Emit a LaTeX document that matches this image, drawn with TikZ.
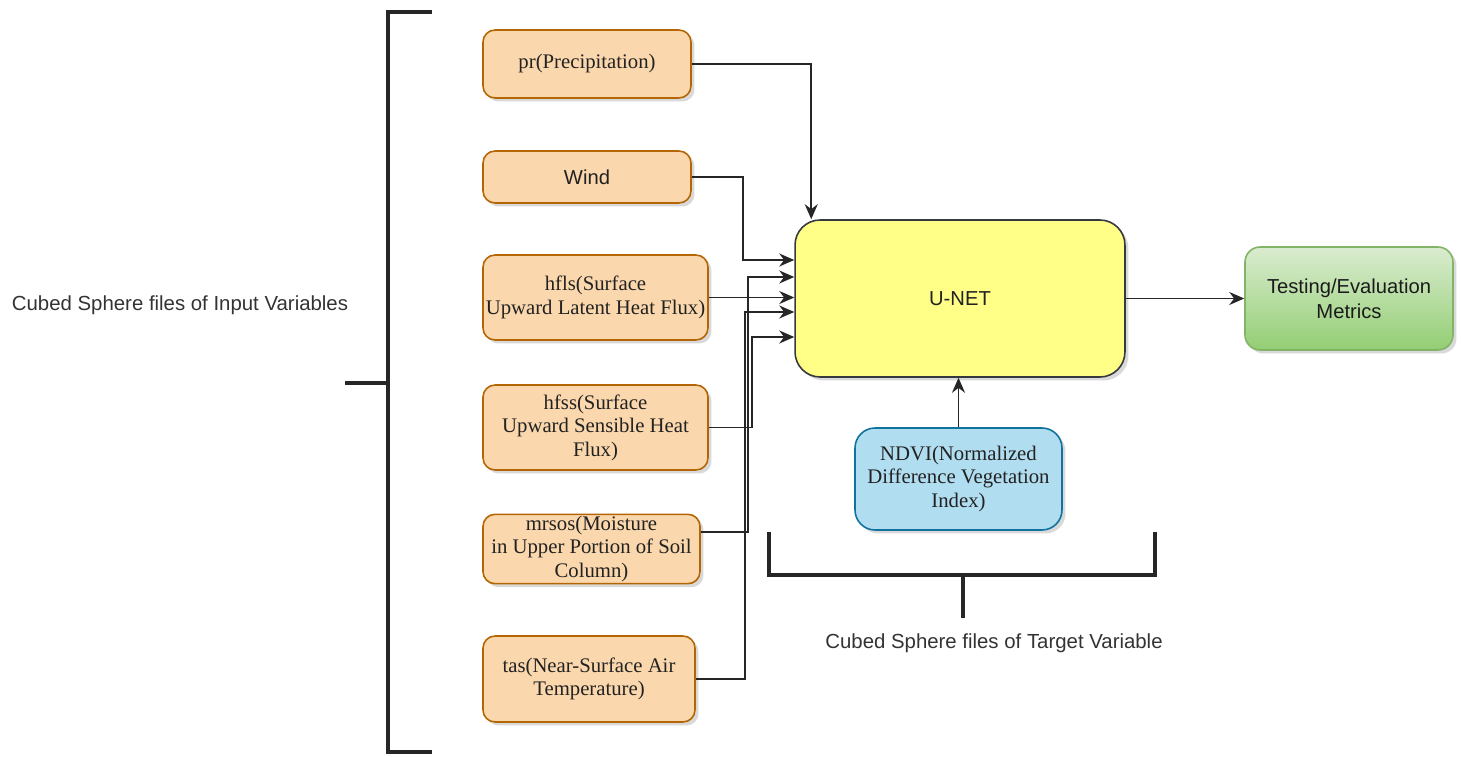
\documentclass[tikz,border=0pt]{standalone}
\usepackage{fontspec}
\setmainfont{Liberation Serif}
\setsansfont{Liberation Sans}
\usetikzlibrary{arrows.meta,shadows,calc}
\definecolor{orfill}{HTML}{FAD7AC}
\definecolor{ordraw}{HTML}{B46504}
\definecolor{yefill}{HTML}{FFFF88}
\definecolor{yedraw}{HTML}{36393D}
\definecolor{blfill}{HTML}{B1DDF0}
\definecolor{bldraw}{HTML}{10739E}
\definecolor{grtop}{HTML}{DAECD0}
\definecolor{grbot}{HTML}{93CE73}
\definecolor{grdraw}{HTML}{82B366}
\definecolor{txt}{HTML}{222222}
\definecolor{lbl}{HTML}{333333}
\tikzset{
  shad/.style={drop shadow={shadow xshift=0.07cm,shadow yshift=-0.07cm,opacity=0.25,fill=black!60}},
  obox/.style={draw=ordraw,fill=orfill,line width=0.9pt,rounded corners=0.24cm,shad,align=center,
    text=txt,font=\fontsize{11.8}{13.4}\selectfont,inner sep=1pt},
  osbox/.style={obox,font=\sffamily\fontsize{11.5}{13.4}\selectfont},
  ubox/.style={draw=yedraw,fill=yefill,line width=0.9pt,rounded corners=0.5cm,shad,align=center,
    text=txt,font=\sffamily\fontsize{11.5}{13.4}\selectfont},
  gbox/.style={draw=grdraw,top color=grtop,bottom color=grbot,line width=0.9pt,rounded corners=0.3cm,shad,
    align=center,text=txt!80!black,font=\sffamily\fontsize{11.5}{14}\selectfont},
  bbox/.style={draw=bldraw,fill=blfill,line width=0.9pt,rounded corners=0.4cm,shad,align=center,
    text=txt,font=\fontsize{11.8}{13.4}\selectfont,inner sep=1pt},
  conn/.style={draw=black!85,line width=1.1pt,-{Stealth[length=3mm,width=2.6mm]}},
  brk/.style={draw=black!85,line width=2pt},
  lab/.style={text=lbl,font=\sffamily\fontsize{11.6}{14}\selectfont}
}
\begin{document}
\begin{tikzpicture}[x=0.02cm,y=-0.02cm]
\useasboundingbox (0,0) rectangle (1461,757);
% input boxes
\node[obox,minimum width=4.16cm,minimum height=1.36cm] (pr) at (587,64) {pr(Precipitation)};
\node[osbox,minimum width=4.16cm,minimum height=1.04cm] (wind) at (587,177) {Wind};
\node[obox,minimum width=4.5cm,minimum height=1.7cm] (hfls) at (595.5,297.5) {hfls(Surface\\Upward Latent Heat Flux)};
\node[obox,minimum width=4.5cm,minimum height=1.7cm] (hfss) at (595.5,427.5) {hfss(Surface\\Upward Sensible Heat\\Flux)};
\node[obox,minimum width=4.34cm,minimum height=1.36cm] (mrsos) at (591.5,549) {mrsos(Moisture\\in Upper Portion of Soil\\Column)};
\node[obox,minimum width=4.24cm,minimum height=1.72cm] (tas) at (589,679) {tas(Near-Surface Air\\Temperature)};
% main boxes
\node[ubox,minimum width=6.6cm,minimum height=3.14cm] (unet) at (960,298.5) {U-NET};
\node[gbox,minimum width=4.16cm,minimum height=2.06cm] (test) at (1349,298.5) {Testing/Evaluation\\Metrics};
\node[bbox,minimum width=4.14cm,minimum height=2.04cm] (ndvi) at (958.5,479) {NDVI(Normalized\\Difference Vegetation\\Index)};
% labels
\node[lab] (inlab) at (180,305) {Cubed Sphere files of Input Variables};
\node[lab] (tglab) at (994,643) {Cubed Sphere files of Target Variable};
% bend points
\coordinate (w1) at (743,260);
\coordinate (m1) at (748,277);
\coordinate (t1) at (745,312);
\coordinate (s1) at (752,337);
\coordinate (mo) at (700,532);
% connectors
\draw[conn] (pr.east) -| ([xshift=0.34cm]unet.north west);
\draw[conn] (wind.east) -| (w1) -- (unet.west |- w1);
\draw[conn] (hfls.east) -- (unet.west |- hfls.east);
\draw[conn] (hfss.east) -| (s1) -- (unet.west |- s1);
\draw[conn] (mrsos.east |- mo) -| (m1) -- (unet.west |- m1);
\draw[conn] (tas.east) -| (t1) -- (unet.west |- t1);
\draw[conn] (unet.east) -- (test.west);
\draw[conn] (ndvi.north) -- (ndvi.north |- unet.south);
% brackets
\draw[brk] (432,12) -- (388,12) -- (388,752) -- (432,752);
\draw[brk] (345,383) -- (388,383);
\draw[brk] (769,532) -- (769,575) -- (1155,575) -- (1155,532);
\draw[brk] (963,575) -- (963,618);
\end{tikzpicture}
\end{document}
